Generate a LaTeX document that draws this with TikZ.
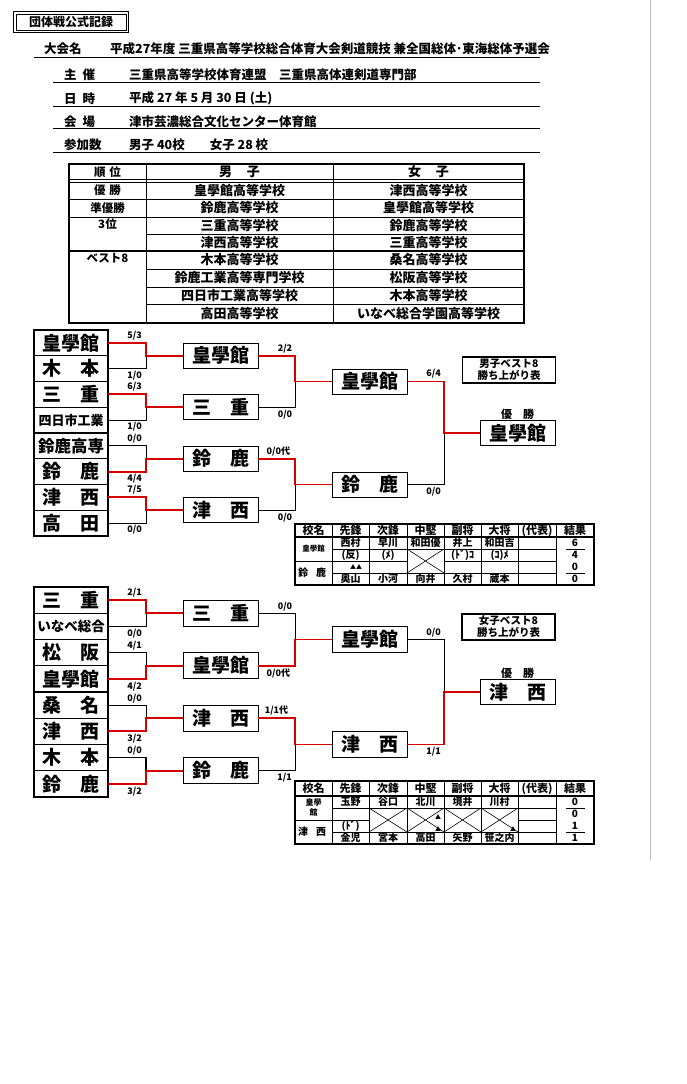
\documentclass[tikz,border=0pt]{standalone}
\usepackage{fontspec}
\setmainfont{Noto Sans CJK JP}
\usetikzlibrary{positioning, calc}
\definecolor{winred}{HTML}{D40000}

\begin{document}
\begin{tikzpicture}[x=1pt, y=-1pt,
  hdr/.style={anchor=west, inner sep=0pt, font=\fontsize{12.5pt}{14pt}\selectfont\bfseries},
  rowtxt/.style={inner sep=0pt, font=\fontsize{13pt}{15pt}\selectfont\bfseries},
  ranktxt/.style={inner sep=0pt, font=\fontsize{11.5pt}{13pt}\selectfont\bfseries},
  team/.style={draw, line width=1.1pt, outer sep=0pt, inner sep=0pt,
               minimum width=74pt, font=\fontsize{19pt}{21pt}\selectfont\bfseries},
  mteam/.style={team, minimum height=25.75pt},
  wteam/.style={team, minimum height=26.25pt},
  rbox/.style={draw, line width=0.9pt, outer sep=0pt, inner sep=0pt,
               minimum width=75pt, minimum height=25pt,
               font=\fontsize{19pt}{21pt}\selectfont\bfseries},
  besttag/.style={draw, line width=1.6pt, minimum width=93pt, minimum height=26pt,
               inner sep=0pt, align=center, font=\fontsize{10.5pt}{12pt}\selectfont\bfseries},
  win/.style={draw=winred, line width=1.8pt},
  lose/.style={draw=black, line width=0.9pt},
  sc/.style={inner sep=2pt, font=\fontsize{9pt}{10pt}\selectfont\bfseries},
  gline/.style={line width=0.6pt},
  tframe/.style={line width=1.4pt},
  thd/.style={inner sep=0pt, font=\fontsize{11pt}{12pt}\selectfont\bfseries},
  tcell/.style={inner sep=0pt, font=\fontsize{10pt}{11pt}\selectfont\bfseries},
  tri/.style={inner sep=0pt, font=\fontsize{6pt}{7pt}\selectfont}]

  \useasboundingbox (0,0) rectangle (686,1084);
  \draw[gray!50, line width=0.6pt] (650,0) -- (650,860);

  % --- 見出し ---
  \node[draw, line width=0.7pt, minimum width=110pt, minimum height=16pt, inner sep=0pt,
        font=\fontsize{12pt}{14pt}\selectfont\bfseries] (title) at (71,22) {団体戦公式記録};
  \draw[line width=1.1pt] ($(title.north west)+(-2.4,-2.4)$) rectangle ($(title.south east)+(2.4,2.4)$);
  \node[hdr] (taikai) at (44,49) {大会名};
  \node[hdr] (taikaimei) at (110,49)
        {平成27年度 三重県高等学校総合体育大会剣道競技 兼全国総体･東海総体予選会};
  \draw[line width=1.8pt] (34,57.5) -- (540,57.5);
  \foreach \y/\k/\v [count=\i] in {75/主\hspace{6pt}催/三重県高等学校体育連盟　三重県高体連剣道専門部,
      98.5/日\hspace{6pt}時/平成 27 年 5 月 30 日 (土),
      121.5/会\hspace{6pt}場/津市芸濃総合文化センター体育館,
      145/参加数/男子 40校　　女子 28 校} {
    \node[hdr] (hk\i) at (64,\y) {\k};
    \node[hdr] (hv\i) at (129,\y) {\v};
  }
  \foreach \y in {82.5,106,128.5,152} \draw[line width=0.9pt] (53,\y) -- (540,\y);

  % --- 順位表 ---
  \draw[line width=1.5pt] (69,164) rectangle (524,323);
  \foreach \x in {146,333} \draw[line width=0.9pt] (\x,164) -- (\x,323);
  \draw[line width=0.7pt] (69,179.5) -- (524,179.5) (69,182) -- (524,182);
  \foreach \y in {199,217} \draw[line width=0.9pt] (69,\y) -- (524,\y);
  \draw[line width=1.5pt] (69,251) -- (524,251);
  \foreach \y in {234,269,287,304} \draw[line width=0.9pt] (146,\y) -- (524,\y);
  \node[ranktxt] (rk0) at (107.5,172) {順\hspace{4pt}位};
  \node[rowtxt] (hm) at (239.5,172) {男\hspace{15pt}子};
  \node[rowtxt] (hf) at (428.5,172) {女\hspace{15pt}子};
  \node[ranktxt] (rk1) at (107.5,190.5) {優\hspace{4pt}勝};
  \node[ranktxt] (rk2) at (107.5,208) {準優勝};
  \node[ranktxt] (rk3) at (107.5,224.5) {3位};
  \node[ranktxt] (rk4) at (107.5,258.5) {ベスト8};
  \foreach \y/\m/\f [count=\i] in {190.5/皇學館高等学校/津西高等学校,
      208/鈴鹿高等学校/皇學館高等学校, 225.5/三重高等学校/鈴鹿高等学校,
      242.5/津西高等学校/三重高等学校, 260/木本高等学校/桑名高等学校,
      278/鈴鹿工業高等専門学校/松阪高等学校, 295.5/四日市工業高等学校/木本高等学校,
      313.5/高田高等学校/いなべ総合学園高等学校} {
    \node[rowtxt] (rm\i) at (239.5,\y) {\m};
    \node[rowtxt] (rf\i) at (428.5,\y) {\f};
  }

  % --- 男子 勝ち上がり ---
  \node[mteam, anchor=north west] (m1) at (34,330) {皇學館};
  \node[mteam, below=0pt of m1] (m2) {木　本};
  \node[mteam, below=0pt of m2] (m3) {三　重};
  \node[mteam, below=0pt of m3, font=\fontsize{13pt}{15pt}\selectfont\bfseries] (m4) {四日市工業};
  \node[mteam, below=0pt of m4, font=\fontsize{16.5pt}{18pt}\selectfont\bfseries] (m5) {鈴鹿高専};
  \node[mteam, below=0pt of m5] (m6) {鈴　鹿};
  \node[mteam, below=0pt of m6] (m7) {津　西};
  \node[mteam, below=0pt of m7] (m8) {高　田};

  \node[rbox] (mq1) at (220.5,355.75) {皇學館};
  \node[rbox] (mq2) at (220.5,407.25) {三　重};
  \node[rbox] (mq3) at (220.5,458.75) {鈴　鹿};
  \node[rbox] (mq4) at (220.5,510.25) {津　西};
  \node[rbox] (ms1) at (369.5,381.5) {皇學館};
  \node[rbox] (ms2) at (369.5,484.5) {鈴　鹿};
  \node[rbox] (mc) at (517.5,433) {皇學館};
  \node[above=1pt of mc, inner sep=0pt, font=\fontsize{11pt}{12pt}\selectfont\bfseries] (mcl) {優　勝};
  \node[besttag] (mtag) at (509,370) {男子ベスト8\\勝ち上がり表};

  \draw[lose] (m2.east) -- node[sc,below,pos=0.7]{1/0} ++(38,0) |- (mq1.west);
  \draw[win]  (m1.east) -- node[sc,above,pos=0.7]{5/3} ++(38,0) |- (mq1.west);
  \draw[lose] (m4.east) -- node[sc,below,pos=0.7]{1/0} ++(38,0) |- (mq2.west);
  \draw[win]  (m3.east) -- node[sc,above,pos=0.7]{6/3} ++(38,0) |- (mq2.west);
  \draw[lose] (m5.east) -- node[sc,above,pos=0.7]{0/0} ++(38,0) |- (mq3.west);
  \draw[win]  (m6.east) -- node[sc,below,pos=0.7]{4/4} ++(38,0) |- (mq3.west);
  \draw[lose] (m8.east) -- node[sc,below,pos=0.7]{0/0} ++(38,0) |- (mq4.west);
  \draw[win]  (m7.east) -- node[sc,above,pos=0.7]{7/5} ++(38,0) |- (mq4.west);

  \draw[lose] (mq2.east) -- node[sc,below,pos=0.73]{0/0} ++(37,0) |- (ms1.west);
  \draw[win]  (mq1.east) -- node[sc,above,pos=0.73]{2/2} ++(37,0) |- (ms1.west);
  \draw[lose] (mq4.east) -- node[sc,below,pos=0.73]{0/0} ++(37,0) |- (ms2.west);
  \draw[win]  (mq3.east) -- node[sc,above,pos=0.55]{0/0代} ++(37,0) |- (ms2.west);

  \draw[lose] (ms2.east) -- node[sc,below,pos=0.72]{0/0} ++(37,0) |- (mc.west);
  \draw[win]  (ms1.east) -- node[sc,above,pos=0.72]{6/4} ++(37,0) |- (mc.west);

  % --- 男子 決勝の内容 ---
  \draw[tframe] (295,524) rectangle (594,585);
  \draw[tframe] (295,537) -- (594,537);
  \foreach \x in {332,369,407,444,481,518,556} \draw[gline] (\x,524) -- (\x,585);
  \draw[gline] (332,549) -- (556,549) (295,561) -- (407,561) (444,561) -- (556,561)
               (332,573) -- (556,573);
  \draw[gline] (407,549) -- (444,573) (407,573) -- (444,549);
  \draw[gline] (566,549) -- (585,549) (566,573) -- (585,573);
  \foreach \x/\t [count=\i] in {313.5/校名, 350.5/先鋒, 388/次鋒, 425.5/中堅, 462.5/副将,
      499.5/大将, 537/(代表), 575/結果}
    \node[thd] (mh\i) at (\x,530.5) {\t};
  \foreach \x/\a/\b/\c [count=\i] in {350.5/西村/(反)/奥山, 388/早川/(ﾒ)/小河,
      425.5/和田優//向井, 462.5/井上/(ﾄﾞ)ｺ/久村, 499.5/和田吉/(ｺ)ﾒ/蔵本} {
    \node[tcell] (ma\i) at (\x,543) {\a};
    \node[tcell] (mb\i) at (\x,555) {\b};
    \node[tcell] (md\i) at (\x,579) {\c};
  }
  \node[tcell, font=\fontsize{7.5pt}{9pt}\selectfont\bfseries] (mn1) at (313.5,549) {皇學館};
  \node[tcell] (mn2) at (312,573) {鈴\hspace{8pt}鹿};
  \node[tri] (mtri) at (356,567) {▲▲};
  \foreach \y/\r [count=\i] in {543/6, 555/4, 567/0, 579/0}
    \node[tcell] (mr\i) at (575,\y) {\r};

  % --- 女子 勝ち上がり ---
  \node[wteam, anchor=north west] (w1) at (34,587) {三　重};
  \node[wteam, below=0pt of w1, font=\fontsize{13.5pt}{15pt}\selectfont\bfseries] (w2) {いなべ総合};
  \node[wteam, below=0pt of w2] (w3) {松　阪};
  \node[wteam, below=0pt of w3] (w4) {皇學館};
  \node[wteam, below=0pt of w4] (w5) {桑　名};
  \node[wteam, below=0pt of w5] (w6) {津　西};
  \node[wteam, below=0pt of w6] (w7) {木　本};
  \node[wteam, below=0pt of w7] (w8) {鈴　鹿};

  \node[rbox, minimum height=26pt] (wq1) at (220.5,613.25) {三　重};
  \node[rbox, minimum height=26pt] (wq2) at (220.5,665.75) {皇學館};
  \node[rbox, minimum height=26pt] (wq3) at (220.5,718.25) {津　西};
  \node[rbox, minimum height=26pt] (wq4) at (220.5,770.75) {鈴　鹿};
  \node[rbox, minimum height=26pt] (ws1) at (369.5,639.5) {皇學館};
  \node[rbox, minimum height=26pt] (ws2) at (369.5,744.5) {津　西};
  \node[rbox] (wc) at (517.5,692) {津　西};
  \node[above=1pt of wc, inner sep=0pt, font=\fontsize{11pt}{12pt}\selectfont\bfseries] (wcl) {優　勝};
  \node[besttag] (wtag) at (508.5,627) {女子ベスト8\\勝ち上がり表};

  \draw[lose] (w2.east) -- node[sc,below,pos=0.7]{0/0} ++(38,0) |- (wq1.west);
  \draw[win]  (w1.east) -- node[sc,above,pos=0.7]{2/1} ++(38,0) |- (wq1.west);
  \draw[lose] (w3.east) -- node[sc,above,pos=0.7]{4/1} ++(38,0) |- (wq2.west);
  \draw[win]  (w4.east) -- node[sc,below,pos=0.7]{4/2} ++(38,0) |- (wq2.west);
  \draw[lose] (w5.east) -- node[sc,above,pos=0.7]{0/0} ++(38,0) |- (wq3.west);
  \draw[win]  (w6.east) -- node[sc,below,pos=0.7]{3/2} ++(38,0) |- (wq3.west);
  \draw[lose, line width=1.3pt] (w7.east) -- node[sc,above,pos=0.7]{0/0} ++(38,0) |- (wq4.west);
  \draw[win]  (w8.east) -- node[sc,below,pos=0.7]{3/2} ++(38,0) |- (wq4.west);

  \draw[lose] (wq1.east) -- node[sc,above,pos=0.73]{0/0} ++(37,0) |- (ws1.west);
  \draw[win]  (wq2.east) -- node[sc,below,pos=0.55]{0/0代} ++(37,0) |- (ws1.west);
  \draw[lose] (wq4.east) -- node[sc,below,pos=0.72]{1/1} ++(37,0) |- (ws2.west);
  \draw[win]  (wq3.east) -- node[sc,above,pos=0.5]{1/1代} ++(37,0) |- (ws2.west);

  \draw[lose] (ws1.east) -- node[sc,above,pos=0.72]{0/0} ++(37,0) |- (wc.west);
  \draw[win]  (ws2.east) -- node[sc,below,pos=0.72]{1/1} ++(37,0) |- (wc.west);

  % --- 女子 決勝の内容 ---
  \draw[tframe] (295,781) rectangle (594,844);
  \draw[tframe] (295,796) -- (594,796);
  \foreach \x in {332,369,407,444,481,518,556} \draw[gline] (\x,781) -- (\x,844);
  \draw[gline] (332,808) -- (556,808) (295,820) -- (369,820) (518,820) -- (556,820)
               (332,832) -- (556,832);
  \foreach \x/\xx in {369/407, 407/444, 444/481, 481/518}
    \draw[gline] (\x,808) -- (\xx,832) (\x,832) -- (\xx,808);
  \draw[gline] (566,808) -- (585,808) (566,832) -- (585,832);
  \foreach \x/\t [count=\i] in {313.5/校名, 350.5/先鋒, 388/次鋒, 425.5/中堅, 462.5/副将,
      499.5/大将, 537/(代表), 575/結果}
    \node[thd] (wh\i) at (\x,788.5) {\t};
  \foreach \x/\a/\c [count=\i] in {350.5/玉野/金児, 388/谷口/宮本, 425.5/北川/高田,
      462.5/境井/矢野, 499.5/川村/笹之内} {
    \node[tcell] (wa\i) at (\x,802) {\a};
    \node[tcell] (wd\i) at (\x,838) {\c};
  }
  \node[tcell] (wb1) at (350.5,826) {(ﾄﾞ)};
  \node[tcell, align=center, font=\fontsize{8pt}{10pt}\selectfont\bfseries] (wn1) at (313.5,807) {皇學\\館};
  \node[tcell] (wn2) at (312,832) {津\hspace{8pt}西};
  \node[tri] (wtri1) at (438,817) {▲};
  \node[tri] (wtri2) at (438,829) {▲};
  \node[tri] (wtri3) at (513,829) {▲};
  \foreach \y/\r [count=\i] in {802/0, 814/0, 826/1, 838/1}
    \node[tcell] (wr\i) at (575,\y) {\r};
\end{tikzpicture}
\end{document}
